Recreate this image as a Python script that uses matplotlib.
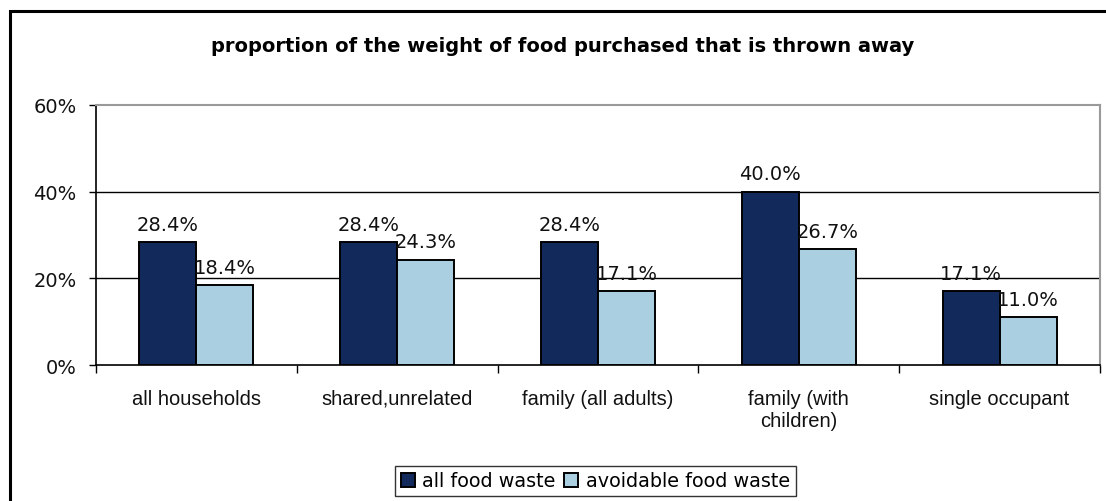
import numpy as np
import matplotlib
matplotlib.use("Agg")
import matplotlib.pyplot as plt
from matplotlib.patches import Rectangle

# data
categories = ["all households", "shared,unrelated", "family (all adults)",
              "family (with\nchildren)", "single occupant"]
all_waste = [28.4, 28.4, 28.4, 40.0, 17.1]
avoidable_waste = [18.4, 24.3, 17.1, 26.7, 11.0]
series_names = ["all food waste", "avoidable food waste"]
yticks = [0, 20, 40, 60]

dark = "#112a5b"
light = "#a9cfe1"

fig = plt.figure(figsize=(11.06, 5.02), dpi=100)
ax = fig.add_axes([96/1106, 1-366/502, (1100-96)/1106, (366-106)/502])

# outer chart border
fig.patches.append(Rectangle((10/1106, -0.1), 1.2, 1-12/502+0.1, transform=fig.transFigure,
                             fill=False, edgecolor="black", linewidth=2.2, zorder=0))

x = np.arange(len(categories))
w = 0.284
b1 = ax.bar(x - w/2, all_waste, w, color=dark, edgecolor="black", linewidth=1.4,
            label=series_names[0], zorder=3)
b2 = ax.bar(x + w/2, avoidable_waste, w, color=light, edgecolor="black", linewidth=1.4,
            label=series_names[1], zorder=3)

for bars, vals in ((b1, all_waste), (b2, avoidable_waste)):
    for rect, v in zip(bars, vals):
        ax.annotate(f"{v:.1f}%", (rect.get_x() + rect.get_width()/2, rect.get_height()),
                    xytext=(0, 6), textcoords="offset points", ha="center", va="bottom",
                    fontsize=14, family="DejaVu Sans", color="#111111")

ax.set_xlim(-0.5, len(categories) - 0.5)
ax.set_ylim(0, 60)
for yv in yticks[1:-1]:
    ax.axhline(yv, color="black", linewidth=1.0, zorder=1)

ax.set_yticks(yticks)
ax.set_yticklabels([f"{t}%" for t in yticks], fontsize=14, family="DejaVu Sans", color="#111111")
ax.tick_params(axis="y", direction="out", length=5, width=1, pad=9)

ax.set_xticks(np.arange(len(categories) + 1) - 0.5)
ax.set_xticklabels([])
ax.tick_params(axis="x", which="major", direction="out", length=6, width=1)
ax.set_xticks(x, minor=True)
ax.set_xticklabels(categories, minor=True, fontsize=14.5, family="Liberation Sans",
                   color="#111111")
ax.tick_params(axis="x", which="minor", length=0, pad=17)

ax.spines["top"].set_color("#999999")
ax.spines["right"].set_color("#999999")
ax.spines["top"].set_linewidth(1.5)
ax.spines["right"].set_linewidth(1.5)
ax.spines["left"].set_linewidth(1.2)
ax.spines["bottom"].set_linewidth(1.2)

fig.text(563/1106, 1-52/502, "proportion of the weight of food purchased that is thrown away",
         ha="center", va="baseline", fontsize=14, fontweight="bold", family="DejaVu Sans")

leg = fig.legend(handles=[b1, b2], loc="center", bbox_to_anchor=(595.5/1106, 1-482/502),
                 ncol=2, frameon=True, fancybox=False, edgecolor="black",
                 prop={"family": "DejaVu Sans", "size": 13.8}, handlelength=0.72,
                 handleheight=0.72, handletextpad=0.4, columnspacing=0.45,
                 borderpad=0.3, borderaxespad=0)
leg.get_frame().set_linewidth(1.0)

fig.savefig("out.png", dpi=100)
